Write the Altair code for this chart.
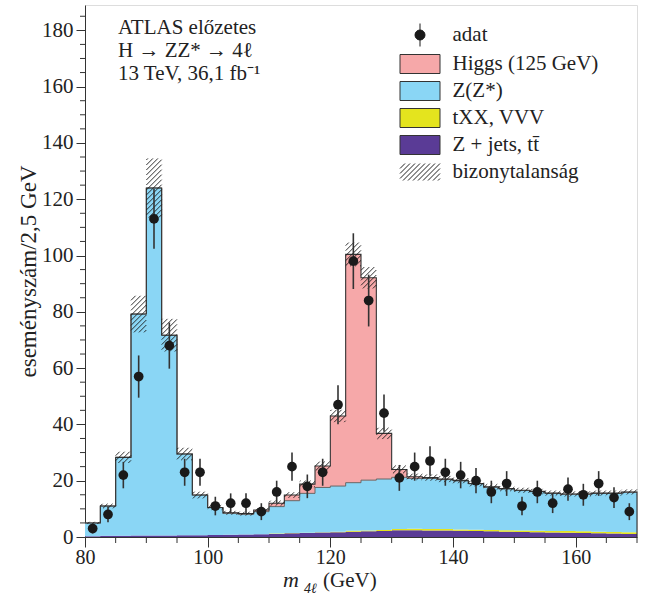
import altair as alt
import numpy as np
import pandas as pd

FONT = "Liberation Serif"
X_MIN, X_MAX, BIN_W = 80.0, 170.0, 2.5
Y_MAX = 189.0
W, H = 552, 532

# observed events per 2.5 GeV bin (80 -> 170 GeV)
data_counts = [3, 8, 22, 57, 113, 68, 23, 23, 11, 12, 12, 9, 16, 25, 18, 23, 47, 98,
               84, 44, 21, 25, 27, 23, 22, 20, 16, 19, 11, 16, 12, 17, 15, 19, 14, 9]
data_err = [1.7, 2.8, 4.7, 7.5, 10.6, 8.2, 4.8, 4.8, 3.3, 3.5, 3.5, 3.0, 4.0, 5.0, 4.2, 4.8, 6.9, 9.9,
            9.2, 6.6, 4.6, 5.0, 5.2, 4.8, 4.7, 4.5, 4.0, 4.4, 3.3, 4.0, 3.5, 4.1, 3.9, 4.4, 3.7, 3.0]
# stacked predictions per bin
zjets_ttbar = [0.3, 0.4, 0.4, 0.5, 0.5, 0.5, 0.6, 0.6, 0.7, 0.8, 0.9, 1.0, 1.1, 1.3, 1.4, 1.6, 1.7, 1.9,
               2.0, 2.1, 2.4, 2.4, 2.3, 2.3, 2.2, 2.1, 2.0, 1.9, 1.8, 1.7, 1.6, 1.5, 1.4, 1.3, 1.2, 1.1]
txx_vvv = [0.0, 0.0, 0.0, 0.0, 0.0, 0.0, 0.0, 0.0, 0.0, 0.0, 0.0, 0.0, 0.1, 0.1, 0.1, 0.1, 0.2, 0.3,
           0.3, 0.4, 0.4, 0.5, 0.5, 0.5, 0.5, 0.5, 0.5, 0.5, 0.5, 0.5, 0.5, 0.6, 0.6, 0.6, 0.6, 0.6]
zz_bkg = [4.7, 10.6, 27.9, 78.7, 123.5, 71.2, 28.9, 14.3, 9.7, 7.6, 7.2, 8.0, 9.6, 11.5, 14.0, 15.9, 16.2, 17.1,
          17.9, 18.1, 18.4, 17.9, 18.0, 17.6, 17.2, 16.3, 15.2, 14.7, 14.2, 13.9, 13.4, 13.1, 13.2, 13.6, 13.7, 14.2]
higgs_sig = [0, 0, 0, 0, 0, 0, 0, 0, 0.1, 0.2, 0.2, 0.6, 1.2, 2.0, 3.3, 7.6, 24.9, 81.1,
             71.9, 16.2, 2.8, 0.6, 0.3, 0.2, 0.2, 0.1, 0.1, 0.1, 0.1, 0.1, 0.1, 0.1, 0.1, 0.1, 0.1, 0.1]
syst_unc = [0.4, 0.8, 2.0, 6.5, 10.5, 5.8, 2.2, 1.2, 0.8, 0.7, 0.7, 0.7, 0.9, 1.0, 1.2, 1.6, 2.2, 4.2,
            3.8, 2.0, 1.4, 1.1, 1.1, 1.1, 1.0, 1.0, 1.0, 0.9, 0.9, 0.9, 0.9, 0.9, 0.9, 0.9, 0.9, 0.9]

x_major = [80, 100, 120, 140, 160]
x_minor = [85, 90, 95, 105, 110, 115, 125, 130, 135, 145, 150, 155, 165, 170]
y_major = [0, 20, 40, 60, 80, 100, 120, 140, 160, 180]
y_minor = [5, 10, 15, 25, 30, 35, 45, 50, 55, 65, 70, 75, 85, 90, 95, 105, 110, 115,
           125, 130, 135, 145, 150, 155, 165, 170, 175, 185]

comp_names = ["zjets", "txx", "zz", "higgs"]
comp_colors = ["#5a3b96", "#e4e41e", "#8ad6f5", "#f6a8a9"]

legend_labels = ["adat", "Higgs (125 GeV)", "Z(Z*)", "tXX, VVV", "Z + jets, tt\u0304", "bizonytalanság"]
legend_fills = ["#1a1a1a", "#f6a8a9", "#8ad6f5", "#e4e41e", "#5a3b96", "transparent"]
legend_strokes = ["#1a1a1a", "#333333", "#333333", "#333333", "#333333", "#222222"]

info_lines = ["ATLAS előzetes", "H → ZZ* → 4ℓ", "13 TeV, 36,1 fb⁻¹"]

# ---------------------------------------------------------------- derived tables
n = len(data_counts)
edges = X_MIN + BIN_W * np.arange(n + 1)
centers = edges[:-1] + BIN_W / 2

area_rows = []
base = np.zeros(n)
tops = {}
for name, vals in zip(comp_names, [zjets_ttbar, txx_vvv, zz_bkg, higgs_sig]):
    top = base + np.array(vals, dtype=float)
    tops[name] = top
    for e_i, e in enumerate(edges):
        idx = min(e_i, n - 1)
        area_rows.append(dict(comp=name, x=float(e), y=float(top[idx]), y2=float(base[idx])))
    base = top
area_df = pd.DataFrame(area_rows)
total = base

blue_line = pd.DataFrame({"x": edges, "y": np.append(tops["zz"], tops["zz"][-1])})
tot_line = pd.DataFrame({"x": np.append(edges, edges[-1]),
                         "y": np.concatenate([total, [total[-1], 0.0]])}).reset_index()

# hatch segments for the uncertainty band
px_gev = W / (X_MAX - X_MIN)
px_unit = H / Y_MAX
k = px_gev / px_unit
s = 5.0 / px_gev
hrows = []
for i in range(n):
    x0, x1 = edges[i], edges[i + 1]
    lo = max(total[i] - syst_unc[i], 0.0)
    hi = total[i] + syst_unc[i]
    j0 = int(np.floor((x0 - hi / k) / s)) - 1
    j1 = int(np.ceil((x1 - lo / k) / s)) + 1
    for j in range(j0, j1 + 1):
        xa = max(x0, j * s + lo / k)
        xb = min(x1, j * s + hi / k)
        if xb - xa > 1e-6:
            hrows.append(dict(x=xa, y=k * (xa - j * s), x2=xb, y2=k * (xb - j * s)))
hatch_df = pd.DataFrame(hrows)

pts_df = pd.DataFrame({"x": centers, "y": data_counts,
                       "lo": np.array(data_counts) - np.array(data_err),
                       "hi": np.array(data_counts) + np.array(data_err)})

# legend symbols (custom paths, unit = 10 px)
rect_path = "M-2,-0.95L2,-0.95L2,0.95L-2,0.95Z"
dot_path = "M0,-1.15L0,1.15M0.5,0A0.5,0.5,0,1,1,-0.5,0A0.5,0.5,0,1,1,0.5,0Z"
hp = []
t = -3.7
while t < 2.0:
    xs_, xe_ = max(t, -2.0), min(t + 1.7, 2.0)
    if xe_ > xs_:
        hp.append(f"M{xs_:.3f},{0.85 - (xs_ - t):.3f}L{xe_:.3f},{0.85 - (xe_ - t):.3f}")
    t += 0.5
hatch_path = "".join(hp)
legend_shapes = [dot_path, rect_path, rect_path, rect_path, rect_path, hatch_path]
legend_df = pd.DataFrame({"label": legend_labels, "x": [0.0] * 6, "y": [0.0] * 6})

# ---------------------------------------------------------------- encodings
xscale = alt.Scale(domain=[X_MIN, X_MAX], nice=False, zero=False)
yscale = alt.Scale(domain=[0, Y_MAX], nice=False, zero=False)
xaxis = alt.Axis(values=x_major, title=None, labelFont=FONT, labelFontSize=20, labelColor="#222",
                 tickSize=10, tickColor="#333", domainColor="#333", labelPadding=0, grid=False,
                 labelFlush=False, labelOverlap=False)
yaxis = alt.Axis(values=y_major, title="eseményszám/2,5 GeV", titleFont=FONT, titleFontSize=23,
                 titleFontWeight="normal", titleColor="#222", labelFont=FONT, labelFontSize=21,
                 labelColor="#222", tickSize=9, tickColor="#333", domainColor="#333",
                 labelPadding=3, titlePadding=1, grid=False, labelOverlap=False)


def X(f):
    return alt.X(f, type="quantitative", scale=xscale, axis=xaxis)


def Y(f):
    return alt.Y(f, type="quantitative", scale=yscale, axis=yaxis)


areas = alt.Chart(area_df).mark_area(interpolate="step-after").encode(
    x=X("x"), y=Y("y"), y2="y2",
    color=alt.Color("comp:N", scale=alt.Scale(domain=comp_names, range=comp_colors), legend=None))

blue_l = alt.Chart(blue_line).mark_line(interpolate="step-after", color="#666", strokeWidth=1).encode(
    x=X("x"), y=Y("y"))
tot_l = alt.Chart(tot_line).mark_line(interpolate="step-after", color="#333", strokeWidth=1.1).encode(
    x=X("x"), y=Y("y"), order=alt.Order("index:Q"))

hatch = alt.Chart(hatch_df).mark_rule(color="#1a1a1a", strokeWidth=0.9).encode(
    x=X("x"), y=Y("y"), x2="x2", y2="y2")

ebars = alt.Chart(pts_df).mark_rule(color="#333", strokeWidth=1.6).encode(
    x=X("x"), y=Y("lo"), y2="hi")
pts = alt.Chart(pts_df).mark_circle(size=95, color="#1a1a1a", opacity=1).encode(x=X("x"), y=Y("y"))

xminor = alt.Chart(pd.DataFrame({"v": x_minor})).mark_rule(color="#333").encode(
    x=X("v"), y=alt.value(H), y2=alt.value(H + 6))
yminor = alt.Chart(pd.DataFrame({"v": y_minor})).mark_rule(color="#333").encode(
    y=Y("v"), x=alt.value(0), x2=alt.value(-5))

leg = alt.Legend(title=None, orient="none", legendX=324.5, legendY=19.5, symbolSize=400,
                 symbolStrokeWidth=1, labelFont=FONT, labelFontSize=21, labelColor="#222",
                 labelOffset=22, rowPadding=4, padding=0, symbolOpacity=1, labelLimit=300)
legend_layer = alt.Chart(legend_df).mark_point(filled=True, clip=True).encode(
    x=X("x"), y=Y("y"),
    fill=alt.Fill("label:N", scale=alt.Scale(domain=legend_labels, range=legend_fills), legend=leg),
    stroke=alt.Stroke("label:N", scale=alt.Scale(domain=legend_labels, range=legend_strokes), legend=leg),
    shape=alt.Shape("label:N", scale=alt.Scale(domain=legend_labels, range=legend_shapes), legend=leg))

one = pd.DataFrame({"a": [0]})
texts = []
for i, line in enumerate(info_lines):
    texts.append(alt.Chart(one).mark_text(text=line, align="left", baseline="alphabetic", font=FONT,
                                          fontSize=21, color="#222").encode(
        x=alt.value(33), y=alt.value(29 + 23 * i)))

xt_m = alt.Chart(one).mark_text(text="m", align="left", baseline="alphabetic", font=FONT, fontSize=22,
                                fontStyle="italic", color="#222").encode(x=alt.value(198), y=alt.value(582))
xt_s = alt.Chart(one).mark_text(text="4ℓ", align="left", baseline="alphabetic", font=FONT, fontSize=14,
                                fontStyle="italic", color="#222").encode(x=alt.value(219), y=alt.value(588))
xt_g = alt.Chart(one).mark_text(text="(GeV)", align="left", baseline="alphabetic", font=FONT, fontSize=21,
                                color="#222").encode(x=alt.value(238), y=alt.value(582))

chart = alt.layer(areas, blue_l, tot_l, hatch, ebars, pts, xminor, yminor, legend_layer,
                  *texts, xt_m, xt_s, xt_g).properties(
    width=W, height=H,
    autosize=alt.AutoSizeParams(type="none"),
    padding={"left": 85, "top": 5, "right": 10, "bottom": 63},
).configure_view(stroke=None).configure(background="white")

chart.save("out.html", embed_options={"renderer": "svg", "actions": False})
